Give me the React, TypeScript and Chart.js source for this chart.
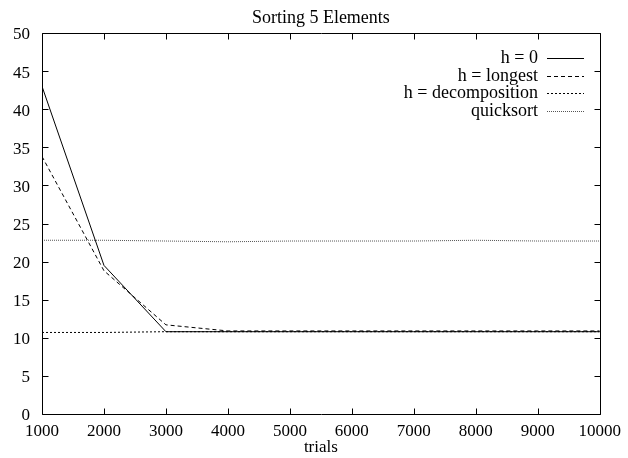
import React, { useEffect, useRef } from "react";
import { Chart, registerables } from "chart.js";

Chart.register(...registerables);

const chartTitle = "Sorting 5 Elements";
const xAxisTitle = "trials";
const trials = [1000, 2000, 3000, 4000, 5000, 6000, 7000, 8000, 9000, 10000];
const seriesNames = ["h = 0", "h = longest", "h = decomposition", "quicksort"];
const hZero = [43.0, 19.5, 10.8, 10.8, 10.8, 10.8, 10.8, 10.8, 10.8, 10.8];
const hLongest = [33.8, 18.8, 11.7, 10.9, 10.9, 10.9, 10.9, 10.9, 10.9, 10.9];
const hDecomposition = [10.7, 10.7, 10.8, 10.8, 10.8, 10.8, 10.8, 10.8, 10.8, 10.8];
const quicksort = [22.8, 22.8, 22.7, 22.6, 22.7, 22.7, 22.7, 22.8, 22.7, 22.7];
const yMin = 0;
const yMax = 50;
const yStep = 5;
const xStep = 1000;

const FONT = "Liberation Serif";

const frameAndLegend = {
  id: "frameAndLegend",
  afterDraw(chart: any) {
    const { ctx, chartArea, scales } = chart;
    const { left, right, top, bottom } = chartArea;
    const xs = scales.x;
    const ys = scales.y;
    ctx.save();
    ctx.strokeStyle = "#000";
    ctx.lineWidth = 1;
    ctx.setLineDash([]);
    const L = Math.round(left) + 0.5;
    const R = Math.round(right) + 0.5;
    const T = Math.round(top) + 0.5;
    const B = Math.round(bottom) + 0.5;
    ctx.beginPath();
    ctx.rect(L, T, R - L, B - T);
    ctx.stroke();
    const tl = 6;
    ctx.beginPath();
    ys.ticks.forEach((t: any) => {
      const py = Math.round(ys.getPixelForValue(t.value)) + 0.5;
      ctx.moveTo(L, py);
      ctx.lineTo(L + tl, py);
      ctx.moveTo(R, py);
      ctx.lineTo(R - tl, py);
    });
    xs.ticks.forEach((t: any) => {
      const px = Math.round(xs.getPixelForValue(t.value)) + 0.5;
      ctx.moveTo(px, B);
      ctx.lineTo(px, B - tl);
      ctx.moveTo(px, T);
      ctx.lineTo(px, T + tl);
    });
    ctx.stroke();

    // title
    ctx.fillStyle = "#000";
    ctx.font = `18px "${FONT}"`;
    ctx.textAlign = "center";
    ctx.textBaseline = "middle";
    ctx.fillText(chartTitle, (left + right) / 2, 18);

    // legend
    const rowY0 = 58;
    const rowH = 17.5;
    const textRight = 538;
    const sampleL = 547;
    const sampleR = 584;
    chart.data.datasets.forEach((ds: any, i: number) => {
      const yy = Math.round(rowY0 + i * rowH) + 0.5;
      ctx.textAlign = "right";
      ctx.textBaseline = "middle";
      ctx.fillStyle = "#000";
      ctx.fillText(ds.label, textRight, yy);
      ctx.strokeStyle = ds.borderColor;
      ctx.lineWidth = ds.borderWidth;
      ctx.setLineDash(ds.borderDash || []);
      ctx.beginPath();
      ctx.moveTo(sampleL, yy);
      ctx.lineTo(sampleR, yy);
      ctx.stroke();
    });
    ctx.restore();
  },
};

export default function App() {
  const ref = useRef<HTMLCanvasElement>(null);
  useEffect(() => {
    document.body.style.margin = "0";
    const toPts = (arr: number[]) => arr.map((v, i) => ({ x: trials[i], y: v }));
    const styles = [
      { color: "#000", dash: [] as number[] },
      { color: "#000", dash: [4, 3] },
      { color: "#000", dash: [2, 2] },
      { color: "#555", dash: [1, 1] },
    ];
    const values = [hZero, hLongest, hDecomposition, quicksort];
    const chart = new Chart(ref.current as HTMLCanvasElement, {
      type: "line",
      data: {
        datasets: values.map((arr, i) => ({
          label: seriesNames[i],
          data: toPts(arr),
          borderColor: styles[i].color,
          borderDash: styles[i].dash,
          borderWidth: 1,
          pointRadius: 0,
          fill: false,
          tension: 0,
        })),
      },
      options: {
        responsive: false,
        animation: false,
        devicePixelRatio: 1,
        layout: { padding: { top: 33, right: 27, left: 0, bottom: 0 } },
        plugins: {
          legend: { display: false },
          title: { display: false },
          tooltip: { enabled: false },
        },
        scales: {
          x: {
            type: "linear",
            min: trials[0],
            max: trials[trials.length - 1],
            grid: { display: false, drawTicks: false },
            border: { display: false },
            ticks: {
              stepSize: xStep,
              autoSkip: false,
              maxRotation: 0,
              color: "#000",
              padding: 7,
              font: { family: FONT, size: 17 },
              callback: (v: any) => String(v),
            },
            title: {
              display: true,
              text: xAxisTitle,
              color: "#000",
              font: { family: FONT, size: 17 },
              padding: { top: 0, bottom: 0 },
            },
            afterFit: (s: any) => {
              s.height = 44;
            },
          },
          y: {
            min: yMin,
            max: yMax,
            grid: { display: false, drawTicks: false },
            border: { display: false },
            ticks: {
              stepSize: yStep,
              color: "#000",
              padding: 12,
              labelOffset: 2,
              font: { family: FONT, size: 17 },
            },
            afterFit: (s: any) => {
              s.width = 42;
            },
          },
        },
      },
      plugins: [frameAndLegend],
    });
    return () => chart.destroy();
  }, []);
  return (
    <div style={{ position: "absolute", left: 0, top: 0, width: 628, height: 458, background: "#fff" }}>
      <canvas ref={ref} width={628} height={458} style={{ display: "block", width: 628, height: 458 }} />
    </div>
  );
}
